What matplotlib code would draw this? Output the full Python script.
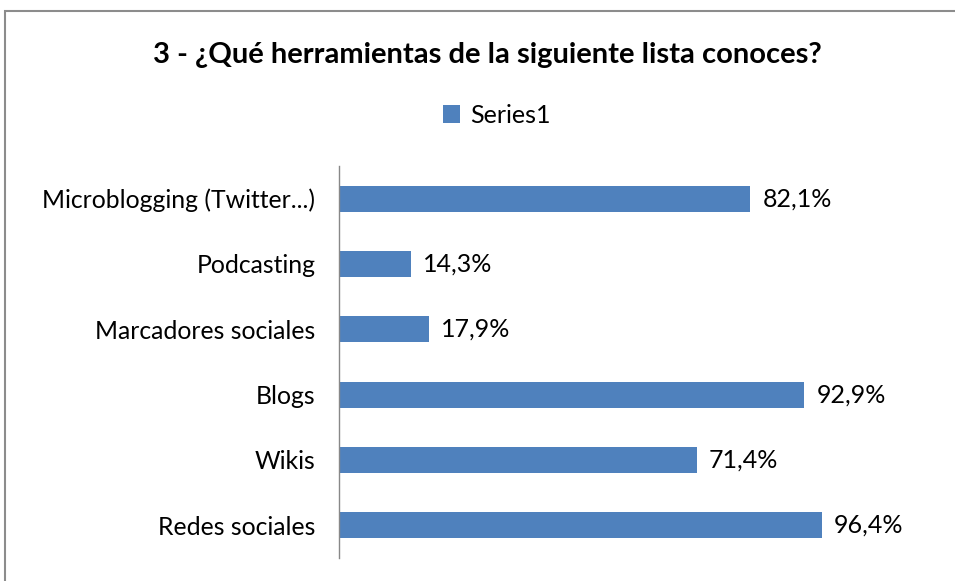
import matplotlib
matplotlib.use("Agg")
from matplotlib import pyplot as plt
from matplotlib.patches import Rectangle

# data
categories = ["Redes sociales", "Wikis", "Blogs", "Marcadores sociales",
              "Podcasting", "Microblogging (Twitter...)"]
values = [96.4, 71.4, 92.9, 17.9, 14.3, 82.1]
title = "3 - ¿Qué herramientas de la siguiente lista conoces?"
series_name = "Series1"

bar_color = "#4F81BD"
plt.rcParams['font.family'] = ['Lato', 'DejaVu Sans']

fig = plt.figure(figsize=(9.55, 5.81), dpi=100)
ax = fig.add_axes([0.355, 0.0396, 0.5245, 0.6747])

bars = ax.barh(range(len(categories)), values, height=0.4, color=bar_color,
               label=series_name)
ax.set_xlim(0, 100)
ax.set_ylim(-0.5, len(categories) - 0.5)
ax.set_yticks(range(len(categories)))
ax.set_yticklabels(categories, fontsize=17.8)
ax.tick_params(axis='y', length=0, pad=17)
ax.set_xticks([])

for s in ["top", "right", "bottom"]:
    ax.spines[s].set_visible(False)
ax.spines["left"].set_color("#888888")
ax.spines["left"].set_linewidth(1)

# value labels
for b, v in zip(bars, values):
    ax.annotate(f"{v:.1f}%".replace(".", ","),
                xy=(b.get_width(), b.get_y() + b.get_height() / 2),
                xytext=(12, 0), textcoords="offset pixels",
                va="center", ha="left", fontsize=18)

fig.text(0.51, 0.905, title, ha="center", va="center", fontsize=21,
         fontweight="bold")

fig.legend(handles=[bars], labels=[series_name], loc="center",
           bbox_to_anchor=(0.52, 0.802), frameon=False, fontsize=18,
           handlelength=0.7, handleheight=0.7, handletextpad=0.4)

# outer chart border
fig.patches.append(Rectangle((5 / 955, -0.05), 1.2, 1 - 11 / 581 + 0.05,
                             transform=fig.transFigure, fill=False,
                             edgecolor="#8c8c8c", linewidth=1.5))

fig.savefig("out.png", dpi=100)
